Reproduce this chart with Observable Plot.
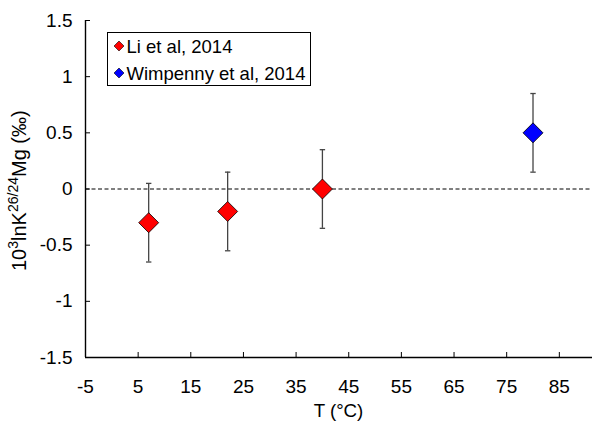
<!DOCTYPE html>
<html>
<head>
<meta charset="utf-8">
<script src="https://cdn.jsdelivr.net/npm/d3@7"></script>
<script src="https://cdn.jsdelivr.net/npm/@observablehq/plot@0.6"></script>
<style>
  html, body { margin: 0; padding: 0; background: #fff; }
  #chart { width: 594px; height: 423px; }
</style>
</head>
<body>
<div id="chart"></div>
<script>
// ---- data ----
const liTemp = [7, 22, 40];
const liValue = [-0.3, -0.2, 0];
const liError = [0.35, 0.35, 0.35];
const wimTemp = [80];
const wimValue = [0.5];
const wimError = [0.35];
const seriesNames = ["Li et al, 2014", "Wimpenny et al, 2014"];
const seriesColors = ["#ff0000", "#0000ff"];
const xTicks = [-5, 5, 15, 25, 35, 45, 55, 65, 75, 85];
const yTicks = [-1.5, -1, -0.5, 0, 0.5, 1, 1.5];

const rows = [
  ...liTemp.map((t, i) => ({series: seriesNames[0], t, v: liValue[i], e: liError[i]})),
  ...wimTemp.map((t, i) => ({series: seriesNames[1], t, v: wimValue[i], e: wimError[i]}))
];

const font = "'Liberation Sans', Arial, Helvetica, sans-serif";
const capSymbol = {draw(ctx) { ctx.moveTo(-2.7, 0); ctx.lineTo(2.7, 0); }};

const plot = Plot.plot({
  width: 594,
  height: 423,
  marginLeft: 85,
  marginRight: 2,
  marginTop: 20,
  marginBottom: 66,
  style: {fontFamily: font, fontSize: "19px", background: "#fff", color: "#000"},
  x: {domain: [-5, 91.3]},
  y: {domain: [-1.5, 1.5]},
  color: {domain: seriesNames, range: seriesColors},
  marks: [
    Plot.ruleY([0], {stroke: "#000", strokeWidth: 1, strokeDasharray: "4,2.5"}),
    Plot.ruleX(rows, {x: "t", y1: d => d.v - d.e, y2: d => d.v + d.e, stroke: "#444", strokeWidth: 1.3}),
    Plot.dot(rows, {x: "t", y: d => d.v - d.e, symbol: capSymbol, r: 3, stroke: "#444", fill: "none", strokeWidth: 1.3}),
    Plot.dot(rows, {x: "t", y: d => d.v + d.e, symbol: capSymbol, r: 3, stroke: "#444", fill: "none", strokeWidth: 1.3}),
    Plot.dot(rows, {x: "t", y: "v", symbol: "diamond2", r: 9, fill: "series", stroke: "#000", strokeWidth: 0.8}),
    Plot.axisX({ticks: xTicks, tickFormat: d => String(d), tickSize: -5, tickPadding: 27, label: null, fontSize: 19, stroke: "#000"}),
    Plot.axisY({ticks: yTicks, tickFormat: d => String(d), tickSize: -5, tickPadding: 18, label: null, fontSize: 19, stroke: "#000"}),
    Plot.ruleX([-5], {stroke: "#000", strokeWidth: 1.4}),
    Plot.ruleY([-1.5], {stroke: "#000", strokeWidth: 1.4})
  ]
});

document.getElementById("chart").appendChild(plot);
const svg = d3.select(plot);

// x axis title
svg.append("text")
  .attr("x", (85 + 592) / 2).attr("y", 417)
  .attr("text-anchor", "middle")
  .style("font-family", font).style("font-size", "18.7px").attr("fill", "#000")
  .text("T (°C)");

// y axis title with superscripts
const yl = svg.append("text")
  .attr("transform", "translate(25.5,271) rotate(-90)")
  .attr("text-anchor", "start")
  .style("font-family", font).style("font-size", "20px").attr("fill", "#000");
yl.append("tspan").text("10");
yl.append("tspan").attr("dy", -7.5).style("font-size", "14px").text("3");
yl.append("tspan").attr("dy", 7.5).text("lnK");
yl.append("tspan").attr("dy", -7.5).style("font-size", "14px").text("26/24");
yl.append("tspan").attr("dy", 7.5).text("Mg (‰)");

// legend
const lg = svg.append("g");
lg.append("rect").attr("x", 107.5).attr("y", 32.5).attr("width", 203).attr("height", 53)
  .attr("fill", "#fff").attr("stroke", "#000").attr("stroke-width", 1);
seriesNames.forEach((name, i) => {
  const cy = 46 + i * 27;
  lg.append("path")
    .attr("d", d3.symbol(d3.symbolDiamond2, Math.PI * 4.5 * 4.5)())
    .attr("transform", `translate(119,${cy})`)
    .attr("fill", seriesColors[i]).attr("stroke", "#000").attr("stroke-width", 0.6);
  lg.append("text")
    .attr("x", 126.5).attr("y", cy).attr("dy", "0.36em")
    .attr("text-anchor", "start")
    .style("font-family", font).style("font-size", "18.5px").attr("fill", "#000")
    .text(name);
});
</script>
</body>
</html>
